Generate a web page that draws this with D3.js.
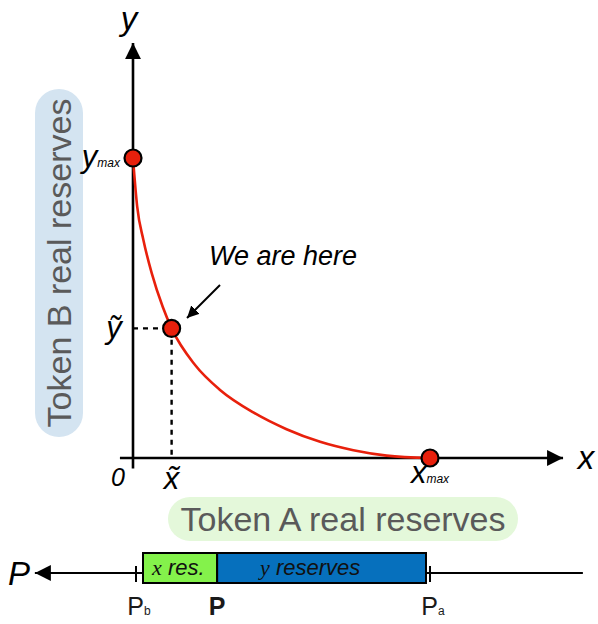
<!DOCTYPE html>
<html>
<head>
<meta charset="utf-8">
<script src="https://cdn.jsdelivr.net/npm/d3@7"></script>
<style>
  body { margin: 0; background: #fff; }
  text { font-family: "Liberation Sans", Helvetica, Arial, sans-serif; }
</style>
</head>
<body>
<div id="chart"></div>
<script>
// curve (x, y in units of xmax / ymax = 100)
const curveX = [0, 1.4, 3.5, 6.3, 10.0, 13.0, 20.9, 29.3, 40.5, 51.7, 63.0, 74.2, 85.4, 100];
const curveY = [100, 83.9, 72.7, 61.6, 50.4, 43.2, 31.0, 22.7, 15.2, 9.6, 5.4, 2.6, 0.8, 0];

// marked points: y max, current point, x max
const pointNames = ["ymax", "here", "xmax"];
const pointX = [0, 13.0, 100];
const pointY = [100, 43.2, 0];

// price line: Pb, P, Pa
const priceNames = ["b", "P", "a"];
const priceValues = [0, 27.6, 100];

const W = 598, H = 624;
const red = "#e8200c";

const svg = d3.select("#chart").append("svg")
  .attr("width", W).attr("height", H);

const x = d3.scaleLinear().domain([0, 100]).range([133, 430]);
const y = d3.scaleLinear().domain([0, 100]).range([458, 158]);
const p = d3.scaleLinear().domain([0, 100]).range([136, 430]);

// label boxes
const gB = svg.append("g").attr("transform", "translate(59,263) rotate(-90)");
gB.append("rect")
  .attr("x", -174).attr("y", -24).attr("width", 348).attr("height", 48)
  .attr("rx", 24).attr("fill", "#d4e4f1");
gB.append("text").attr("text-anchor", "middle").attr("dy", "0.36em")
  .attr("font-size", 34).attr("fill", "#5a5a5a").text("Token B real reserves");

svg.append("rect")
  .attr("x", 168).attr("y", 497).attr("width", 350).attr("height", 44)
  .attr("rx", 22).attr("fill", "#e4f8da");
svg.append("text").attr("x", 343).attr("y", 531).attr("text-anchor", "middle")
  .attr("font-size", 34).attr("fill", "#5a5a5a").text("Token A real reserves");

// arrow markers
const defs = svg.append("defs");
defs.append("marker").attr("id", "head").attr("viewBox", "0 0 16 16")
  .attr("refX", 16).attr("refY", 8).attr("markerWidth", 16).attr("markerHeight", 16)
  .attr("markerUnits", "userSpaceOnUse").attr("orient", "auto")
  .append("path").attr("d", "M0,0 L16,8 L0,16 Z").attr("fill", "#000");
defs.append("marker").attr("id", "small").attr("viewBox", "0 0 12 12")
  .attr("refX", 12).attr("refY", 6).attr("markerWidth", 12).attr("markerHeight", 12)
  .attr("markerUnits", "userSpaceOnUse").attr("orient", "auto")
  .append("path").attr("d", "M0,0 L12,6 L0,12 Z").attr("fill", "#000");

// axes
svg.append("line")
  .attr("x1", x(0)).attr("y1", y(-3.5)).attr("x2", x(0)).attr("y2", y(138.3))
  .attr("stroke", "#000").attr("stroke-width", 2.6).attr("marker-end", "url(#head)");
svg.append("line")
  .attr("x1", x(-4.4)).attr("y1", y(0)).attr("x2", x(144.8)).attr("y2", y(0))
  .attr("stroke", "#000").attr("stroke-width", 2.6).attr("marker-end", "url(#head)");

svg.append("text").attr("x", 129).attr("y", 30).attr("text-anchor", "middle")
  .attr("font-size", 33).attr("font-style", "italic").text("y");
svg.append("text").attr("x", 586).attr("y", 469).attr("text-anchor", "middle")
  .attr("font-size", 33).attr("font-style", "italic").text("x");
svg.append("text").attr("x", 118).attr("y", 486).attr("text-anchor", "middle")
  .attr("font-size", 25).attr("font-style", "italic").text("0");

// dashed guides to current point
const here = 1;
svg.append("path")
  .attr("d", `M${x(0)},${y(pointY[here])} H${x(pointX[here])} V${y(0)}`)
  .attr("fill", "none").attr("stroke", "#000").attr("stroke-width", 2.4)
  .attr("stroke-dasharray", "5,5");

// curve
const line = d3.line().x(d => x(d[0])).y(d => y(d[1])).curve(d3.curveMonotoneX);
svg.append("path")
  .datum(d3.zip(curveX, curveY))
  .attr("d", line)
  .attr("fill", "none").attr("stroke", red).attr("stroke-width", 2.6);

// points
svg.selectAll("circle.pt").data(pointNames).join("circle")
  .attr("class", "pt")
  .attr("cx", (d, i) => x(pointX[i])).attr("cy", (d, i) => y(pointY[i]))
  .attr("r", 8.5).attr("fill", red).attr("stroke", "#000").attr("stroke-width", 2.2);

// point labels
const ymaxT = svg.append("text").attr("x", x(0) - 13).attr("y", y(100) + 9)
  .attr("text-anchor", "end").attr("font-style", "italic");
ymaxT.append("tspan").attr("font-size", 31).text("y");
ymaxT.append("tspan").attr("font-size", 12).text("max");

const xmaxT = svg.append("text").attr("x", x(100)).attr("y", y(0) + 25)
  .attr("text-anchor", "middle").attr("font-style", "italic");
xmaxT.append("tspan").attr("font-size", 31).text("x");
xmaxT.append("tspan").attr("font-size", 12).text("max");

svg.append("text").attr("x", 114).attr("y", y(pointY[here]) + 10)
  .attr("text-anchor", "middle").attr("font-size", 31).attr("font-style", "italic")
  .text("y\u0303");
svg.append("text").attr("x", x(pointX[here])).attr("y", y(0) + 31)
  .attr("text-anchor", "middle").attr("font-size", 31).attr("font-style", "italic")
  .text("x\u0303");

// annotation
svg.append("text").attr("x", 209).attr("y", 265)
  .attr("font-size", 27).attr("font-style", "italic").text("We are here");
svg.append("line")
  .attr("x1", 220).attr("y1", 285).attr("x2", 187).attr("y2", 318)
  .attr("stroke", "#000").attr("stroke-width", 2).attr("marker-end", "url(#small)");

// price line
const lineY = 573;
svg.append("line")
  .attr("x1", p(152)).attr("y1", lineY).attr("x2", p(-34.4)).attr("y2", lineY)
  .attr("stroke", "#000").attr("stroke-width", 2).attr("marker-end", "url(#head)");
svg.append("text").attr("x", 19).attr("y", 585).attr("text-anchor", "middle")
  .attr("font-size", 33).attr("font-style", "italic").text("P");

// ticks at Pb and Pa
svg.selectAll("line.tick").data([priceValues[0], priceValues[2]]).join("line")
  .attr("class", "tick")
  .attr("x1", d => p(d)).attr("x2", d => p(d))
  .attr("y1", lineY - 7).attr("y2", lineY + 9)
  .attr("stroke", "#000").attr("stroke-width", 2);

// reserve boxes
const boxTop = 553, boxH = 30;
svg.append("rect")
  .attr("x", p(priceValues[0]) + 7).attr("y", boxTop)
  .attr("width", p(priceValues[1]) - p(priceValues[0]) - 7).attr("height", boxH)
  .attr("fill", "#84f24b").attr("stroke", "#000").attr("stroke-width", 2);
svg.append("rect")
  .attr("x", p(priceValues[1])).attr("y", boxTop)
  .attr("width", p(priceValues[2]) - 4 - p(priceValues[1])).attr("height", boxH)
  .attr("fill", "#0670bd").attr("stroke", "#000").attr("stroke-width", 2);

const xr = svg.append("text").attr("x", 152).attr("y", 575).attr("font-size", 22)
  .attr("font-style", "italic").attr("fill", "#111");
xr.append("tspan").attr("font-family", "Liberation Serif").text("x");
xr.append("tspan").text(" res.");

const yr = svg.append("text").attr("x", 260).attr("y", 575).attr("font-size", 22)
  .attr("font-style", "italic").attr("fill", "#111");
yr.append("tspan").attr("font-family", "Liberation Serif").text("y");
yr.append("tspan").text(" reserves");

// price labels
priceNames.forEach((n, i) => {
  const t = svg.append("text").attr("x", p(priceValues[i])).attr("y", 615)
    .attr("text-anchor", "middle").attr("fill", "#1a1a1a");
  if (n === "P") {
    t.attr("font-size", 25).attr("font-weight", "bold").text("P");
  } else {
    t.attr("dx", 3);
    t.append("tspan").attr("font-size", 25).text("P");
    t.append("tspan").attr("font-size", 12).text(n);
  }
});
</script>
</body>
</html>
